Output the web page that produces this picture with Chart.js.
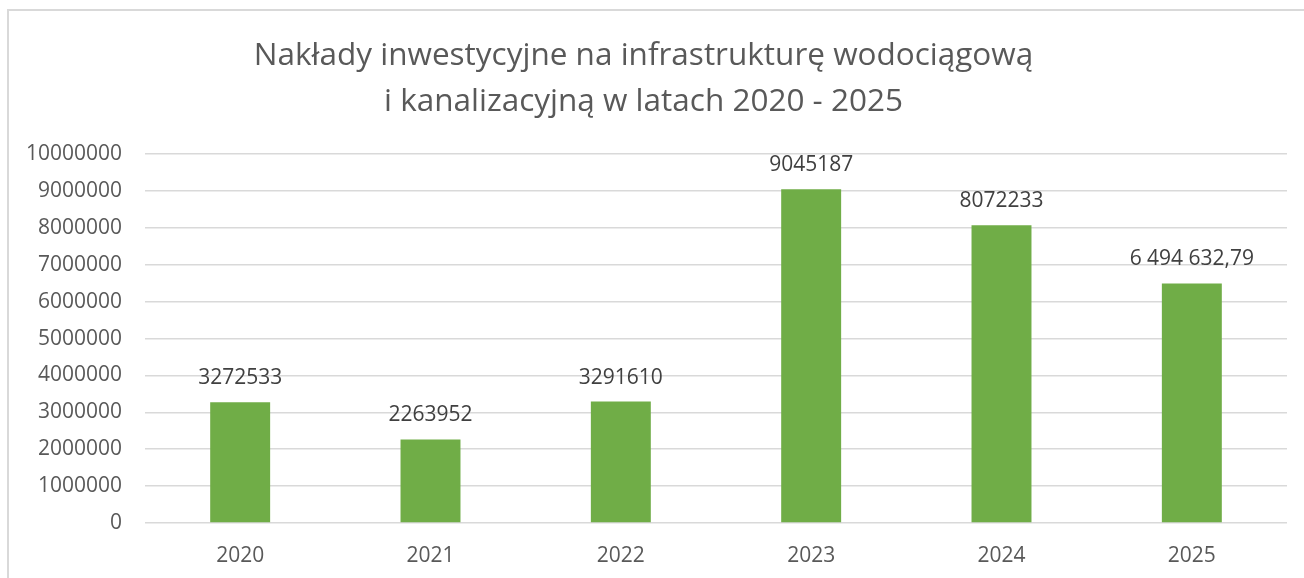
<!DOCTYPE html>
<html>
<head>
<meta charset="utf-8">
<script src="https://cdn.jsdelivr.net/npm/chart.js@4/dist/chart.umd.min.js"></script>
<style>
  html, body { margin: 0; padding: 0; background: #fff; }
  #wrap { width: 1304px; height: 578px; position: relative; }
</style>
</head>
<body>
<div id="wrap"><canvas id="chart" width="1304" height="578"></canvas></div>
<script>
const years = ['2020', '2021', '2022', '2023', '2024', '2025'];
const outlays = [3272533, 2263952, 3291610, 9045187, 8072233, 6494632.79];
const outlayLabels = ['3272533', '2263952', '3291610', '9045187', '8072233', '6 494 632,79'];
const titleLines = ['Nakłady inwestycyjne na infrastrukturę wodociągową', 'i kanalizacyjną w latach 2020 - 2025'];
const yMax = 10000000;
const yStep = 1000000;

const FONT = '"Open Sans", sans-serif';

// frame of the chart object (only the left and top edges are in the crop)
const framePlugin = {
  id: 'frame',
  beforeDraw(chart) {
    const ctx = chart.ctx;
    ctx.save();
    ctx.strokeStyle = '#d9d9d9';
    ctx.lineWidth = 2;
    ctx.beginPath();
    ctx.moveTo(8, chart.height);
    ctx.lineTo(8, 10);
    ctx.lineTo(chart.width, 10);
    ctx.stroke();
    ctx.restore();
  }
};

const valueLabelPlugin = {
  id: 'valueLabels',
  afterDatasetsDraw(chart) {
    const ctx = chart.ctx;
    const meta = chart.getDatasetMeta(0);
    ctx.save();
    ctx.font = '21px ' + FONT;
    ctx.fillStyle = '#404040';
    ctx.textAlign = 'center';
    ctx.textBaseline = 'alphabetic';
    meta.data.forEach((bar, i) => {
      ctx.fillText(outlayLabels[i], bar.x, bar.y - 18);
    });
    ctx.restore();
  }
};

new Chart(document.getElementById('chart'), {
  type: 'bar',
  data: {
    labels: years,
    datasets: [{
      data: outlays,
      backgroundColor: '#70ad47',
      borderWidth: 0,
      barPercentage: 0.9,
      categoryPercentage: 0.35
    }]
  },
  options: {
    responsive: false,
    animation: false,
    layout: { padding: { left: 0, right: 17, top: 10, bottom: 0 } },
    plugins: {
      legend: { display: false },
      tooltip: { enabled: false },
      title: {
        display: true,
        text: titleLines,
        color: '#595959',
        font: { family: FONT, size: 31.5, weight: 'normal', lineHeight: 1.43 },
        padding: { top: 24, bottom: 30 }
      }
    },
    scales: {
      x: {
        grid: { display: false },
        border: { display: false },
        ticks: { color: '#595959', font: { family: FONT, size: 21 }, padding: 12 },
        afterFit(scale) { scale.height = 55; }
      },
      y: {
        min: 0,
        max: yMax,
        border: { display: false },
        grid: { color: '#d9d9d9', lineWidth: 1.5, drawTicks: false },
        ticks: {
          stepSize: yStep,
          color: '#595959',
          font: { family: FONT, size: 21 },
          padding: 23,
          callback: (value) => String(value)
        },
        afterFit(scale) { scale.width = 145; }
      }
    }
  },
  plugins: [framePlugin, valueLabelPlugin]
});
</script>
</body>
</html>
